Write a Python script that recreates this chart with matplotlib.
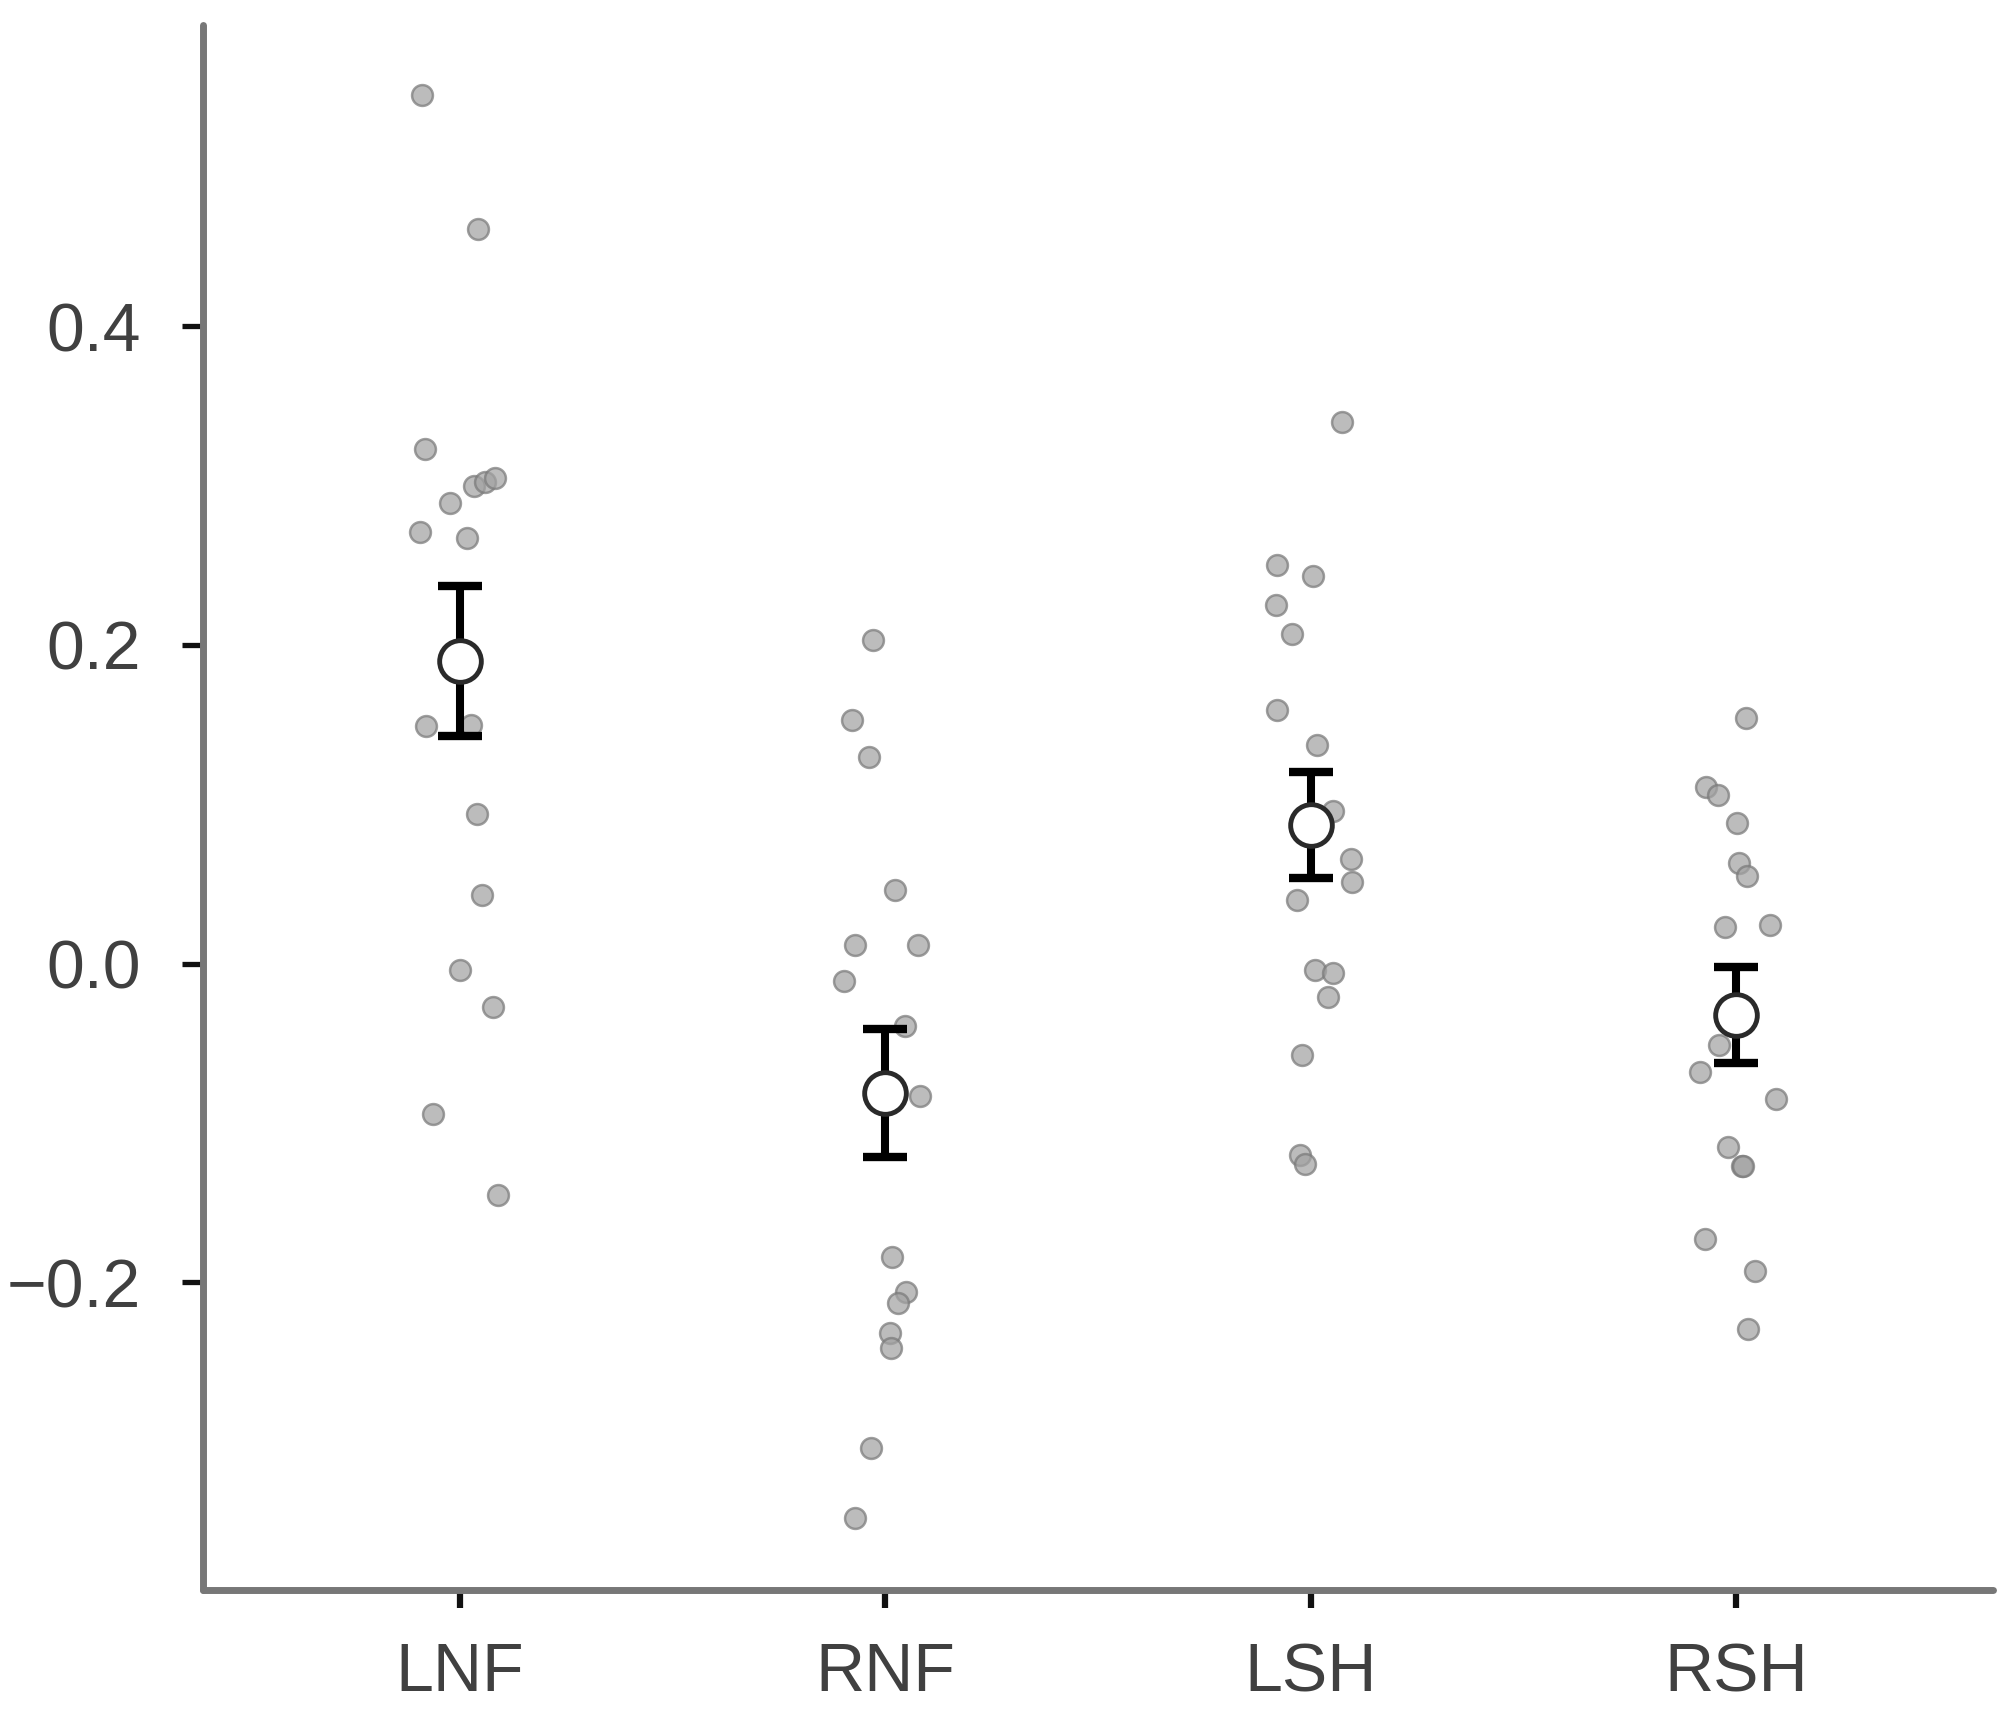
import matplotlib
matplotlib.use("Agg")
import matplotlib.pyplot as plt
from matplotlib.ticker import FixedLocator, FuncFormatter

# ---- data ----
categories = ['LNF', 'RNF', 'LSH', 'RSH']

lnf_values = [0.545, 0.461, 0.323, 0.289, 0.300, 0.302, 0.305, 0.271, 0.267,
              0.149, 0.150, 0.094, 0.043, -0.004, -0.027, -0.094, -0.145]
lnf_jitter = [-0.089, 0.042, -0.081, -0.023, 0.034, 0.058, 0.082, -0.094, 0.016,
              -0.079, 0.026, 0.040, 0.052, 0.000, 0.079, -0.063, 0.089]

rnf_values = [0.203, 0.153, 0.130, 0.046, 0.012, 0.012, -0.011, -0.039, -0.083,
              -0.184, -0.206, -0.213, -0.232, -0.241, -0.304, -0.348]
rnf_jitter = [-0.030, -0.078, -0.039, 0.024, -0.071, 0.077, -0.097, 0.047, 0.081,
              0.015, 0.049, 0.031, 0.010, 0.013, -0.034, -0.072]

lsh_values = [0.340, 0.250, 0.243, 0.225, 0.207, 0.159, 0.137, 0.096, 0.066,
              0.051, 0.040, -0.004, -0.006, -0.021, -0.057, -0.120, -0.126]
lsh_jitter = [0.073, -0.079, 0.005, -0.081, -0.044, -0.079, 0.016, 0.052, 0.094,
              0.097, -0.031, 0.010, 0.052, 0.040, -0.021, -0.026, -0.013]

rsh_values = [0.154, 0.111, 0.106, 0.088, 0.063, 0.055, 0.023, 0.024, -0.051,
              -0.068, -0.085, -0.115, -0.127, -0.127, -0.173, -0.193, -0.229]
rsh_jitter = [0.023, -0.071, -0.043, 0.003, 0.007, 0.026, -0.026, 0.079, -0.039,
              -0.084, 0.093, -0.019, 0.013, 0.016, -0.073, 0.044, 0.028]

group_means = [0.190, -0.081, 0.087, -0.032]
group_sems = [0.047, 0.040, 0.033, 0.030]

y_ticks = [-0.2, 0.0, 0.2, 0.4]

# ---- plotting ----
plt.rcParams['font.family'] = ['Liberation Sans', 'DejaVu Sans']

fig = plt.figure(figsize=(20.15, 17.29), dpi=100)
ax = fig.add_axes([0.1007, 0.0804, 0.8884, 0.9051])

groups = [(lnf_values, lnf_jitter), (rnf_values, rnf_jitter),
          (lsh_values, lsh_jitter), (rsh_values, rsh_jitter)]
for i, (vals, jit) in enumerate(groups):
    xs = [i + j for j in jit]
    ax.scatter(xs, vals, s=225, facecolor='#a2a2a2', edgecolor='#7a7a7a',
               linewidth=1.8, alpha=0.72, zorder=2)

xpos = list(range(len(categories)))
ax.errorbar(xpos, group_means, yerr=group_sems, fmt='none', ecolor='black',
            elinewidth=5.8, capsize=15.5, capthick=6, zorder=3)
ax.plot(xpos, group_means, linestyle='none', marker='o', markersize=30,
        markerfacecolor='white', markeredgecolor='#2a2a2a', markeredgewidth=3.5,
        zorder=4)

ax.set_xlim(-0.604, 3.604)
ax.set_ylim(-0.393, 0.589)

ax.set_xticks(xpos)
ax.set_xticklabels(categories)
ax.yaxis.set_major_locator(FixedLocator(y_ticks))
ax.yaxis.set_major_formatter(FuncFormatter(lambda v, p: f"{v:.1f}".replace('-', '\u2212')))

for side in ['top', 'right']:
    ax.spines[side].set_visible(False)
for side in ['left', 'bottom']:
    ax.spines[side].set_color('#777777')
    ax.spines[side].set_linewidth(5)
    ax.spines[side].set_capstyle('round')

ax.tick_params(axis='y', length=15, width=3.8, color='#111111', pad=30,
               labelsize=49, labelcolor='#404040')
ax.tick_params(axis='x', length=13, width=4.5, color='#111111', pad=24,
               labelsize=49, labelcolor='#404040')

fig.savefig('out.png', dpi=100, facecolor='white')
